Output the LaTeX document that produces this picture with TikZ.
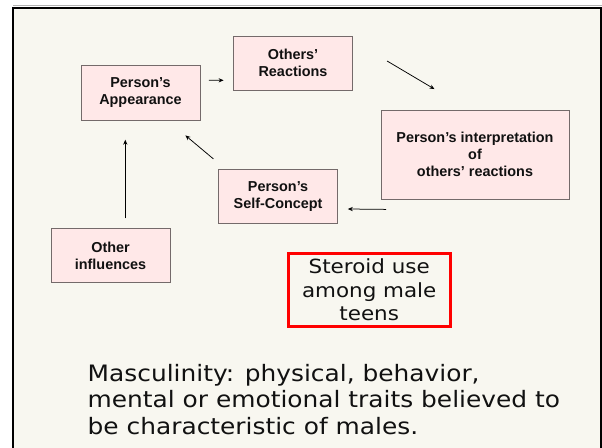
\documentclass[tikz,border=0pt]{standalone}
\usepackage{fontspec}
\usetikzlibrary{arrows.meta}
\newfontfamily\boxfont{Liberation Sans}
\newfontfamily\slidefont[FakeStretch=1.1]{DejaVu Sans}
\definecolor{slidebg}{HTML}{F8F7F0}
\definecolor{boxfill}{HTML}{FFE8E8}
\definecolor{boxline}{HTML}{746A6A}
\definecolor{redline}{HTML}{FF0000}
\definecolor{txt}{HTML}{111111}
\tikzset{
  flowbox/.style={draw=boxline, line width=0.8pt, fill=boxfill, inner sep=0pt,
    minimum width=119pt, minimum height=54.3pt, align=center,
    font=\boxfont\bfseries\fontsize{14.4}{17}\selectfont, text=txt},
  flowarrow/.style={draw=black, line width=0.75pt, -{Stealth[length=5pt,width=4.2pt]}},
  redbox/.style={draw=redline, line width=3pt, fill=slidebg, inner sep=0pt,
    minimum width=162pt, minimum height=73pt, align=center,
    font=\slidefont\fontsize{19.5}{23.3}\selectfont, text=txt},
  bodyline/.style={anchor=base west, inner sep=0pt,
    font=\slidefont\fontsize{22.6}{26.7}\selectfont, text=txt}
}
\begin{document}
\begin{tikzpicture}[x=1pt,y=-1pt]
\useasboundingbox (0,0) rectangle (602,447);
\clip (0,0) rectangle (602,447);
\fill[white] (0,0) rectangle (602,447);
\draw[gray!60, line width=1pt] (13,5.5) -- (602,5.5);
\draw[black, line width=2.2pt, fill=slidebg] (13.2,7.7) rectangle (601,470);

\node[flowbox] (app) at (140.5,92.85) {Person’s\\Appearance};
\node[flowbox, minimum width=119.4pt] (oth) at (293,63.15) {Others’\\Reactions};
\node[flowbox, minimum width=188pt, minimum height=89pt] (interp) at (475,154.5)
  {Person’s interpretation\\of\\others’ reactions};
\node[flowbox, minimum width=118.6pt] (self) at (278.1,196.15) {Person’s\\Self-Concept};
\node[flowbox] (other) at (110.5,255.5) {Other\\influences};

\node[redbox] (steroid) at (369.2,290) {Steroid use\\among male\\teens};

\draw[flowarrow] ([shift={(8.5,-12.55)}]app.east) -- ([shift={(-9.3,17.15)}]oth.west);
\draw[flowarrow] ([shift={(34,-2.15)}]oth.east) -- ([shift={(-40.5,-20.5)}]interp.north);
\draw[flowarrow] ([shift={(5.6,10)}]interp.south west) -- ([shift={(10,12.85)}]self.east);
\draw[flowarrow] ([shift={(-5,-9.7)}]self.north west) -- ([shift={(-15,15)}]app.south east);
\draw[flowarrow] ([shift={(14.8,-9.6)}]other.north) -- ([shift={(-15.2,19.3)}]app.south);

\node[bodyline] (l1) at (87.5,381) {Masculinity: physical, behavior,};
\node[bodyline] (l2) at (87.5,407.5) {mental or emotional traits believed to};
\node[bodyline] (l3) at (87.5,434.5) {be characteristic of males.};
\end{tikzpicture}
\end{document}
